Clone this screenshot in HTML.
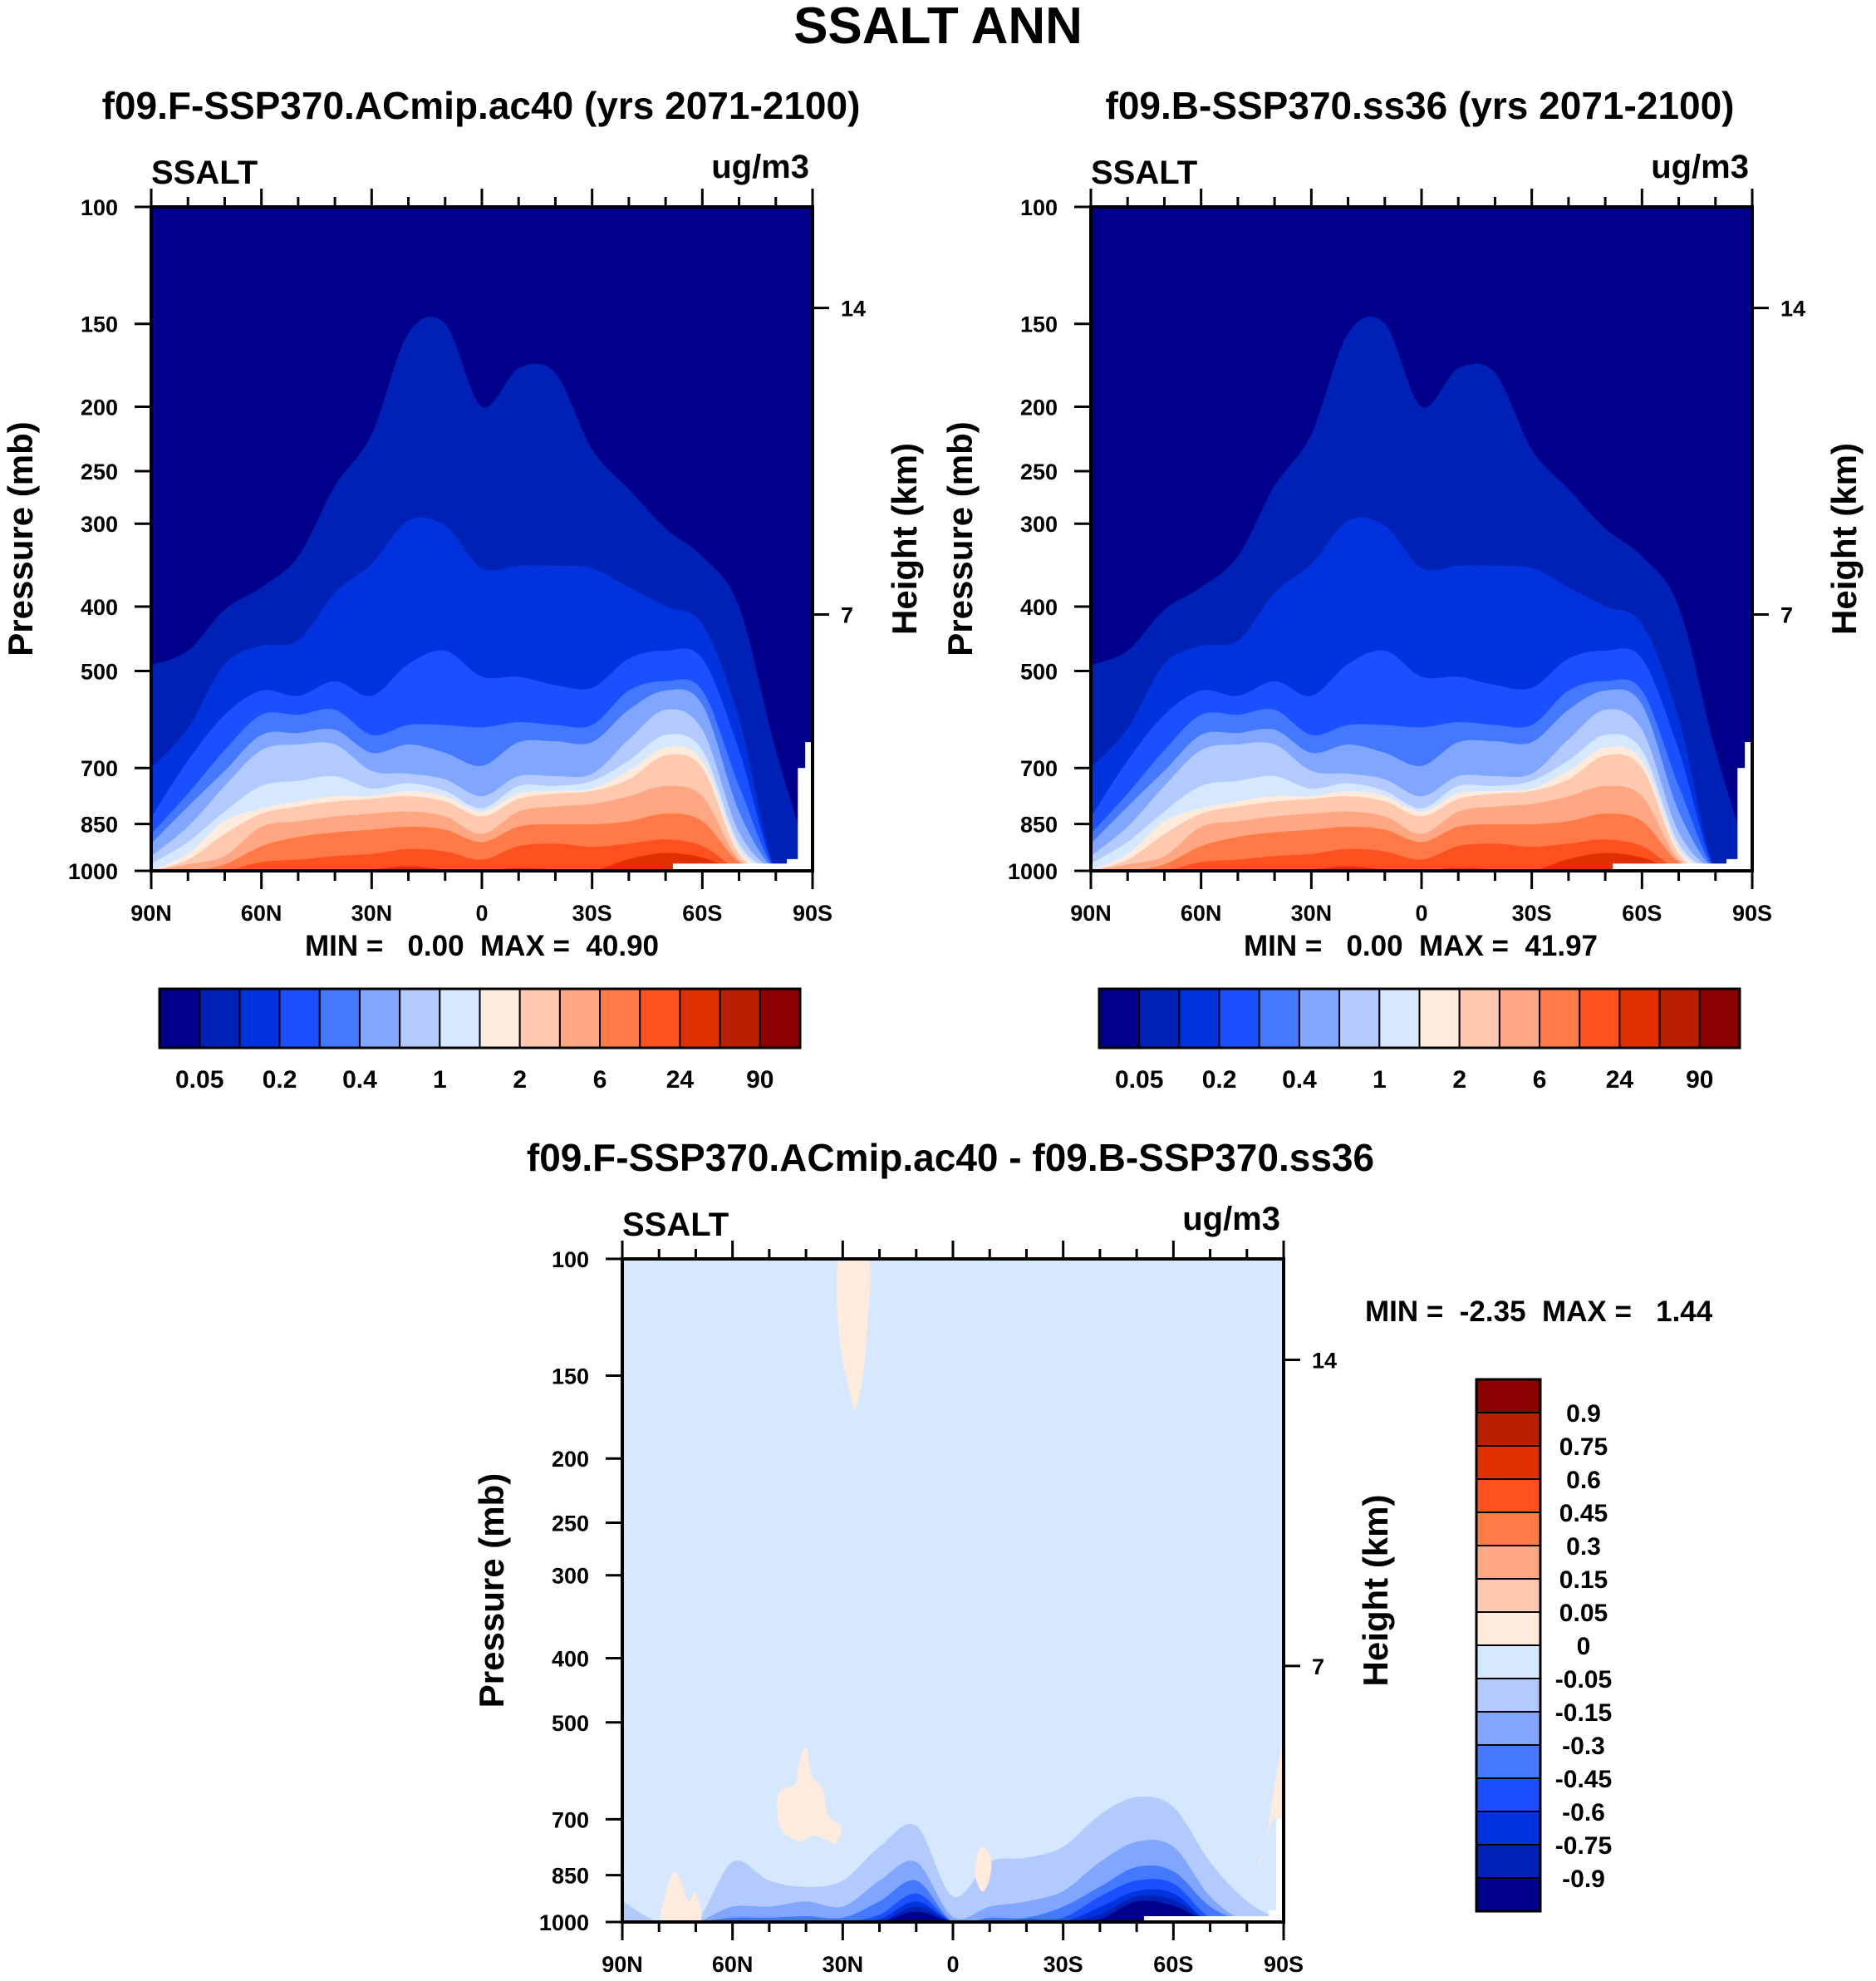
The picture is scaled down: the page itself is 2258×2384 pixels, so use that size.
<!DOCTYPE html>
<html><head><meta charset="utf-8"><style>
html,body{margin:0;padding:0;background:#fff;}
svg{display:block;font-family:"Liberation Sans",Arial,sans-serif;font-weight:bold;}
.pre{white-space:pre;}
</style></head><body>
<svg id="fig" width="2258" height="2384" viewBox="0 0 2258 2384" xmlns="http://www.w3.org/2000/svg">
<text x="1129" y="52" font-size="62" text-anchor="middle">SSALT ANN</text>
</svg>
<script>
// ---------- data ----------
const lats = [90,80,70,60,50,40,30,20,10,0,-10,-20,-30,-40,-50,-60,-70,-80,-90];
const pressTicks = [100,150,200,250,300,400,500,700,850,1000];
const heightTicks = [14,7];
const heightTickP = [142,411];
const latTickLabels = ["90N","60N","30N","0","30S","60S","90S"];
const colors = ["#00008a","#0021b5","#0033dd","#1a50ff","#4478ff","#80a6ff","#b3caff","#d6e8ff","#ffebdb","#ffc9b0","#ffa782","#ff7a47","#ff5020","#e03000","#b82000","#8b0000"];
const cbLabels1 = ["0.05","0.2","0.4","1","2","6","24","90"];
const cbLabels3 = ["0.9","0.75","0.6","0.45","0.3","0.15","0.05","0","-0.05","-0.15","-0.3","-0.45","-0.6","-0.75","-0.9"];
// pressure (mb) of the top of each colour level, per latitude (panels 1/2)
const lvl1 = [490,466,404,374,336,263,220,155,150,200,175,178,232,266,305,336,400,658,1000];
const lvl2 = [700,610,488,458,450,381,345,297,302,350,347,347,350,374,400,425,590,1000,1000];
const lvl3 = [830,682,582,535,545,518,545,488,466,510,510,525,530,479,466,479,658,1000,1000];
const lvl4 = [880,765,658,582,582,572,624,603,603,608,597,603,603,535,518,535,745,1000,1000];
const lvl5 = [910,800,707,624,620,613,664,645,664,695,640,638,640,572,535,562,814,1000,1000];
const lvl6 = [950,858,745,658,645,645,707,714,728,772,720,720,714,634,572,613,875,1000,1000];
const lvl7 = [975,905,814,745,732,720,752,738,758,805,745,745,732,682,624,658,910,1000,1000];
const lvl8 = [1000,943,842,805,786,772,772,758,772,814,765,758,752,707,652,682,927,1000,1000];
const lvl9 = [1000,962,880,820,800,786,779,772,786,828,779,765,758,728,670,700,943,1000,1000];
const lvl10 = [1000,978,950,858,842,828,820,814,828,880,814,800,793,772,745,772,962,1000,1000];
const lvl11 = [1000,1000,978,918,889,875,867,858,867,905,858,851,851,842,820,842,970,1000,1000];
const lvl12 = [1000,1000,1000,970,962,950,943,927,935,962,918,910,920,910,897,918,995,1000,1000];
const lvl13 = [1000,1000,1000,1000,1000,1000,995,985,995,1000,990,995,1000,960,940,955,1000,1000,1000];
const levelsMean = [lvl1,lvl2,lvl3,lvl4,lvl5,lvl6,lvl7,lvl8,lvl9,lvl10,lvl11,lvl12,lvl13];
// difference panel: blue levels (index into colors)
const dB1 = [930,1000,1000,812,866,885,866,770,716,915,812,800,770,689,648,671,812,930,1000];
const dB2 = [1000,1000,1000,948,948,931,948,866,812,983,948,931,898,812,757,770,915,1000,1000];
const dB3 = [1000,1000,1000,985,985,980,985,931,866,1000,985,985,948,885,826,839,948,1000,1000];
const dB4 = [1000,1000,1000,1000,1000,1000,1000,975,906,1000,1000,990,985,915,866,875,985,1000,1000];
const dB5 = [1000,1000,1000,1000,1000,1000,1000,990,931,1000,1000,1000,1000,950,898,905,1000,1000,1000];
const dB6 = [1000,1000,1000,1000,1000,1000,1000,1000,948,1000,1000,1000,1000,975,915,925,1000,1000,1000];
const dB7 = [1000,1000,1000,1000,1000,1000,1000,1000,965,1000,1000,1000,1000,990,931,945,1000,1000,1000];
const diffLevels = [dB1,dB2,dB3,dB4,dB5,dB6,dB7];
const diffColorIdx = [6,5,4,3,2,1,0];
// positive blobs [lat, p]
const blobPlume = [[31,100],[23,100],[23.5,130],[24.5,150],[26.5,168],[28,160],[31,130]];
const blobMid = [[40,545],[38.5,600],[35.5,630],[34,690],[30.5,720],[32,760],[35,750],[38,740],[42,755],[47,720],[47.5,640],[43,620],[42,580]];
const blobEq = [[-8,770],[-6.5,800],[-6,850],[-8,900],[-10,860],[-10.3,800]];
const blobPole = [[-90,545],[-90,700],[-87,700],[-84,800],[-83,820],[-85,760],[-87,650],[-89,560]];
const blobArctic = [[79,1000],[78,900],[76,840],[74,870],[72,930],[70,900],[69,1000]];

const NS="http://www.w3.org/2000/svg";
const svg=document.getElementById('fig');
function el(tag,attrs,parent){const e=document.createElementNS(NS,tag);for(const k in attrs)e.setAttribute(k,attrs[k]);(parent||svg).appendChild(e);return e;}
function txt(s,x,y,size,anchor,parent,rot){const t=el('text',{x:x,y:y,'font-size':size,'text-anchor':anchor||'middle'},parent);if(rot)t.setAttribute('transform','rotate(-90 '+x+' '+y+')');t.textContent=s;return t;}

function smoothPath(pts){
  let d='M'+pts[0][0]+','+pts[0][1];
  for(let i=0;i<pts.length-1;i++){
    const p0=pts[Math.max(0,i-1)],p1=pts[i],p2=pts[i+1],p3=pts[Math.min(pts.length-1,i+2)];
    const c1=[p1[0]+(p2[0]-p0[0])/6,p1[1]+(p2[1]-p0[1])/6];
    const c2=[p2[0]-(p3[0]-p1[0])/6,p2[1]-(p3[1]-p1[1])/6];
    d+=' C'+c1[0]+','+c1[1]+' '+c2[0]+','+c2[1]+' '+p2[0]+','+p2[1];
  }
  return d;
}
function closedSmooth(pts){
  const n=pts.length;let d='M'+pts[0][0]+','+pts[0][1];
  for(let i=0;i<n;i++){
    const p0=pts[(i-1+n)%n],p1=pts[i],p2=pts[(i+1)%n],p3=pts[(i+2)%n];
    const c1=[p1[0]+(p2[0]-p0[0])/6,p1[1]+(p2[1]-p0[1])/6];
    const c2=[p2[0]-(p3[0]-p1[0])/6,p2[1]-(p3[1]-p1[1])/6];
    d+=' C'+c1[0]+','+c1[1]+' '+c2[0]+','+c2[1]+' '+p2[0]+','+p2[1];
  }
  return d+'Z';
}

function makePanel(name,x0,y0,w,h,bg,levels,colIdx,blobs,subtitle,subX,minmax,mmX,mmY,mmAnchor,miss){
  const xs=lat=>x0+(90-lat)/180*w;
  const ys=p=>y0+h*Math.log10(p/100);
  const g=el('g',{});
  
  
  const cid='clip-'+name;
  const cp=el('clipPath',{id:cid},g);el('rect',{x:x0,y:y0,width:w,height:h},cp);
  const plot=el('g',{'clip-path':'url(#'+cid+')'},g);
  const bgR=el('rect',{x:x0,y:y0,width:w,height:h,fill:bg},plot);
  
  
  levels.forEach((arr,k)=>{
    const pts=lats.map((la,i)=>[xs(la),ys(arr[i])]);
    const d=smoothPath(pts)+' L'+xs(-90)+','+(y0+h+5)+' L'+xs(90)+','+(y0+h+5)+'Z';
    const p=el('path',{d:d,fill:colors[colIdx[k]]},plot);
    
    
  });
  blobs.forEach((b,k)=>{
    const pts=b.map(q=>[xs(q[0]),ys(q[1])]);
    const p=el('path',{d:closedSmooth(pts),fill:colors[8]},plot);
    
    
  });
  const mp=el('path',{d:'M'+miss.map(q=>xs(q[0])+','+ys(q[1])).join(' L')+'Z',fill:'#fff'},plot);
  
  
  const fr=el('rect',{x:x0,y:y0,width:w,height:h,fill:'none',stroke:'#000','stroke-width':4},g);
  
  
  for(let la=90;la>=-90;la-=10){
    const x=xs(la);const maj=la%30===0;const L=maj?22:12;
    el('line',{x1:x,y1:y0,x2:x,y2:y0-L,stroke:'#000','stroke-width':3},g);
    el('line',{x1:x,y1:y0+h,x2:x,y2:y0+h+L,stroke:'#000','stroke-width':3},g);
  }
  latTickLabels.forEach((s,i)=>{const t=txt(s,xs(90-30*i),y0+h+60,27,'middle',g);});
  pressTicks.forEach(p=>{
    const y=ys(p);
    el('line',{x1:x0,y1:y,x2:x0-20,y2:y,stroke:'#000','stroke-width':3},g);
    const t=txt(String(p),x0-40,y+10,27,'end',g);
    
  });
  heightTicks.forEach((hk,i)=>{
    const y=ys(heightTickP[i]);
    el('line',{x1:x0+w,y1:y,x2:x0+w+20,y2:y,stroke:'#000','stroke-width':3},g);
    const t=txt(String(hk),x0+w+34,y+10,27,'start',g);
    
  });
  let t=txt('SSALT',x0,y0-28,40,'start',g);
  t=txt('ug/m3',x0+w-4,y0-35,40,'end',g);
  t=txt('Pressure (mb)',x0-143,y0+h/2,42,'middle',g,true);
  t=txt('Height (km)',x0+w+125,y0+h/2,42,'middle',g,true);
  t=txt(subtitle,subX,y0-106,46,'middle',g);
  t=el('text',{x:mmX,y:mmY,'font-size':35,'text-anchor':mmAnchor,'class':'pre'},g);t.textContent=minmax;
  
}
function hColorbar(name,x0,y0,w,h){
  const g=el('g',{});
  const bw=w/16;
  colors.forEach((c,i)=>{const r=el('rect',{x:x0+i*bw,y:y0,width:bw,height:h,fill:c,stroke:'#000','stroke-width':2},g);});
  el('rect',{x:x0,y:y0,width:w,height:h,fill:'none',stroke:'#000','stroke-width':3},g);
  cbLabels1.forEach((s,i)=>{const t=txt(s,x0+(2*i+1)*bw,y0+h+48,30,'middle',g);});
}
const idx13=[1,2,3,4,5,6,7,8,9,10,11,12,13];
const missMean=[[-52,975],[-70,975],[-83,975],[-83,960],[-86,960],[-86,700],[-88,700],[-88,640],[-90,640],[-90,1000],[-52,1000]];
const missDiff=[[-52,980],[-75,980],[-86,980],[-86,960],[-88,960],[-88,700],[-90,700],[-90,1000],[-52,1000]];
makePanel('panel-model-f',182,249,796,799,colors[0],levelsMean,idx13,[],'f09.F-SSP370.ACmip.ac40 (yrs 2071-2100)',579,'MIN =   0.00  MAX =  40.90',580,1150,'middle',missMean);
makePanel('panel-model-b',1313,249,796,799,colors[0],levelsMean,idx13,[],'f09.B-SSP370.ss36 (yrs 2071-2100)',1709,'MIN =   0.00  MAX =  41.97',1710,1150,'middle',missMean);
hColorbar('colorbar-left',192,1190,771,71);
hColorbar('colorbar-right',1323,1190,771,71);
makePanel('panel-difference',749,1515,796,798,colors[7],diffLevels,diffColorIdx,[blobPlume,blobMid,blobEq,blobPole,blobArctic],'f09.F-SSP370.ACmip.ac40 - f09.B-SSP370.ss36',1144,'MIN =  -2.35  MAX =   1.44',1643,1590,'start',missDiff);
(function(){
  const g=el('g',{});
  const x0=1777,y0=1660,w=77,h=640,bh=h/16;
  const rev=colors.slice().reverse();
  rev.forEach((c,i)=>{const r=el('rect',{x:x0,y:y0+i*bh,width:w,height:bh,fill:c,stroke:'#000','stroke-width':2},g);});
  el('rect',{x:x0,y:y0,width:w,height:h,fill:'none',stroke:'#000','stroke-width':3},g);
  cbLabels3.forEach((s,i)=>{const t=txt(s,1906,y0+(i+1)*bh+11,30,'middle',g);});
})();
</script>
</body></html>
